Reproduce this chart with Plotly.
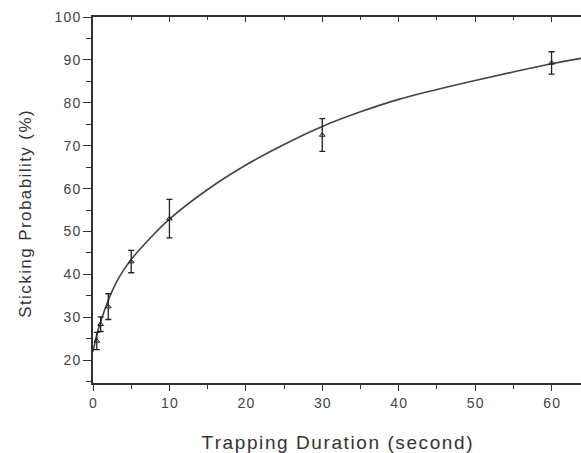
import plotly.graph_objects as go

# Measured data (trapping duration in seconds, sticking probability in %)
duration = [0.5, 1, 2, 5, 10, 30, 60]
probability = [24.5, 28.4, 32.5, 43, 53, 72.5, 89.3]
prob_error = [2.0, 1.7, 3.0, 2.6, 4.5, 3.8, 2.6]

# Fitted curve
fit_x = [0, 0.5, 1, 2, 3, 4, 5, 7.5, 10, 15, 20, 25, 30, 35, 40, 45, 50, 55, 60, 64]
fit_y = [22, 26, 29, 34, 38, 41, 43.5, 48.5, 52.9, 59.8, 65.5, 70.3, 74.5, 77.9,
         80.8, 83.1, 85.2, 87.2, 89.1, 90.4]

x_ticks = [0, 10, 20, 30, 40, 50, 60]
y_ticks = [20, 30, 40, 50, 60, 70, 80, 90, 100]

XR = [0, 63.85]
YR = [14.7, 100]
axis_col = "#333333"
font_fam = "Liberation Sans, Arial, sans-serif"
HS = "\u200a"


def spaced(s):
    return HS.join(list(s))


fig = go.Figure()
fig.add_trace(go.Scatter(
    x=fit_x, y=fit_y, mode="lines", line=dict(color="#444444", width=1.6, shape="spline"),
    showlegend=False, hoverinfo="skip"))
fig.add_trace(go.Scatter(
    x=duration, y=probability, mode="markers",
    marker=dict(symbol="triangle-up-open", size=5, color="#222", line=dict(width=1)),
    error_y=dict(type="data", array=prob_error, visible=True, color="#222", thickness=1.3, width=3),
    showlegend=False))
# top axis (mirror with inward ticks)
fig.add_trace(go.Scatter(x=[None], y=[None], xaxis="x2", showlegend=False))

fig.update_layout(
    width=581, height=453,
    margin=dict(l=93, r=0, t=17, b=70, autoexpand=False),
    paper_bgcolor="white", plot_bgcolor="white",
    font=dict(family=font_fam, color="#333"),
    xaxis=dict(
        range=XR, tickvals=x_ticks, ticktext=[spaced(str(v)) for v in x_ticks],
        ticks="outside", ticklen=6, tickwidth=1.3, tickcolor=axis_col,
        minor=dict(dtick=5, tick0=0, ticks="outside", ticklen=4, tickwidth=1.2, tickcolor=axis_col),
        showline=True, linecolor=axis_col, linewidth=1.8, showgrid=False, zeroline=False,
        tickfont=dict(size=14, color="#444"), automargin=False,
        title=dict(text=spaced("Trapping Duration (second)"),
                   font=dict(size=19, color="#333"), standoff=26),
    ),
    xaxis2=dict(
        range=XR, overlaying="x", side="top", anchor="y",
        tickvals=x_ticks, showticklabels=False, automargin=False,
        ticks="inside", ticklen=5, tickwidth=1.3, tickcolor=axis_col,
        minor=dict(dtick=5, tick0=0, ticks="inside", ticklen=3, tickwidth=1.2, tickcolor=axis_col),
        showline=True, linecolor=axis_col, linewidth=1.8, showgrid=False, zeroline=False,
    ),
    yaxis=dict(
        range=YR, tickvals=y_ticks, ticktext=[spaced(str(v)) for v in y_ticks],
        ticks="outside", ticklen=8, tickwidth=1.3, tickcolor=axis_col,
        minor=dict(dtick=5, tick0=0, ticks="outside", ticklen=5, tickwidth=1.2, tickcolor=axis_col),
        showline=True, linecolor=axis_col, linewidth=1.8, showgrid=False, zeroline=False,
        tickfont=dict(size=14, color="#444"), automargin=False,
    ),
    annotations=[dict(
        text=spaced("Sticking Probability (%)"), textangle=-90,
        xref="paper", yref="paper", x=-0.139, y=0.46,
        xanchor="center", yanchor="middle", showarrow=False,
        font=dict(size=17, color="#333", family=font_fam),
    )],
)

fig.write_html("out.html", config={"displayModeBar": False},
               post_script="document.body.style.margin='0';document.body.style.padding='0';")
